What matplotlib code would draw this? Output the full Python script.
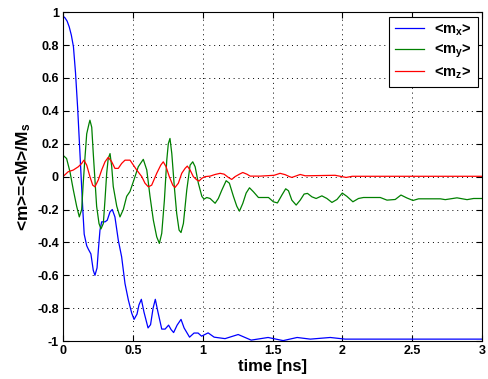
import matplotlib
matplotlib.use("Agg")
import matplotlib.pyplot as plt
from matplotlib.ticker import FormatStrFormatter

# <m_x> (blue)
mx_t = [0.0, 0.015, 0.03, 0.045, 0.06, 0.075, 0.09, 0.105, 0.117, 0.13, 0.142, 0.152,
        0.170, 0.181, 0.200, 0.217, 0.229, 0.244, 0.253, 0.265, 0.277, 0.301, 0.317,
        0.337, 0.353, 0.372, 0.396, 0.420, 0.444, 0.468, 0.492, 0.509, 0.530, 0.544,
        0.561, 0.580, 0.609, 0.627, 0.645, 0.661, 0.680, 0.707, 0.731, 0.756, 0.774,
        0.792, 0.817, 0.845, 0.867, 0.906, 0.938, 0.967, 0.992, 1.039, 1.082, 1.160,
        1.254, 1.347, 1.468, 1.576, 1.676, 1.770, 1.913, 2.020, 2.414, 3.0]
mx_v = [0.976, 0.965, 0.945, 0.91, 0.86, 0.79, 0.63, 0.42, 0.22, 0.0, -0.2, -0.35,
        -0.42, -0.44, -0.47, -0.57, -0.60, -0.555, -0.45, -0.325, -0.275, -0.275, -0.265,
        -0.214, -0.2, -0.245, -0.386, -0.488, -0.65, -0.75, -0.83, -0.868, -0.836, -0.78,
        -0.746, -0.824, -0.92, -0.90, -0.80, -0.746, -0.824, -0.927, -0.927, -0.903, -0.93,
        -0.948, -0.903, -0.868, -0.92, -0.976, -0.951, -0.951, -0.97, -0.95, -0.976, -0.985,
        -0.96, -0.994, -0.978, -0.997, -0.978, -0.988, -0.978, -0.988, -0.988, -0.988]

# <m_y> (green)
my_t = [0.0, 0.026, 0.050, 0.074, 0.098, 0.117, 0.134, 0.145, 0.158, 0.170, 0.186, 0.193,
        0.206, 0.217, 0.229, 0.241, 0.258, 0.272, 0.289, 0.301, 0.313, 0.324, 0.337, 0.349,
        0.360, 0.385, 0.408, 0.432, 0.456, 0.480, 0.504, 0.539, 0.575, 0.600, 0.623, 0.647,
        0.671, 0.690, 0.707, 0.726, 0.743, 0.754, 0.766, 0.779, 0.797, 0.814, 0.831, 0.845,
        0.862, 0.886, 0.910, 0.929, 0.946, 0.969, 0.994, 1.010, 1.029, 1.053, 1.089, 1.112,
        1.137, 1.168, 1.191, 1.220, 1.244, 1.263, 1.287, 1.311, 1.335, 1.363, 1.399, 1.471,
        1.506, 1.535, 1.567, 1.594, 1.614, 1.638, 1.669, 1.698, 1.726, 1.750, 1.782, 1.812,
        1.853, 1.889, 1.925, 1.961, 1.999, 2.032, 2.075, 2.115, 2.151, 2.271, 2.319, 2.378,
        2.419, 2.462, 2.505, 2.545, 2.701, 2.736, 2.820, 2.892, 2.939, 3.0]
my_v = [0.13, 0.11, 0.03, -0.08, -0.18, -0.245, -0.2, -0.04, 0.12, 0.26, 0.32, 0.343,
        0.30, 0.14, -0.02, -0.18, -0.285, -0.318, -0.285, -0.14, 0.02, 0.11, 0.14, 0.06,
        -0.06, -0.18, -0.245, -0.2, -0.12, -0.09, -0.03, 0.06, 0.105, 0.04, -0.12, -0.265,
        -0.366, -0.406, -0.345, -0.143, 0.10, 0.20, 0.232, 0.14, -0.062, -0.224, -0.325, -0.34,
        -0.285, -0.082, 0.07, 0.09, 0.06, -0.04, -0.12, -0.137, -0.127, -0.133, -0.162, -0.133,
        -0.082, -0.025, -0.04, -0.12, -0.18, -0.21, -0.163, -0.10, -0.068, -0.092, -0.127, -0.127,
        -0.153, -0.16, -0.112, -0.074, -0.086, -0.143, -0.173, -0.143, -0.106, -0.102, -0.123, -0.133,
        -0.117, -0.133, -0.157, -0.139, -0.10, -0.12, -0.153, -0.133, -0.127, -0.127, -0.143, -0.139,
        -0.112, -0.13, -0.145, -0.135, -0.135, -0.14, -0.129, -0.14, -0.133, -0.133]

# <m_z> (red)
mz_t = [0.0, 0.038, 0.074, 0.110, 0.134, 0.150, 0.170, 0.193, 0.213, 0.229, 0.253, 0.277,
        0.301, 0.324, 0.349, 0.372, 0.396, 0.420, 0.444, 0.480, 0.504, 0.528, 0.564, 0.587,
        0.611, 0.635, 0.671, 0.700, 0.718, 0.738, 0.761, 0.786, 0.802, 0.826, 0.850, 0.874,
        0.890, 0.910, 0.933, 0.958, 0.974, 0.994, 1.017, 1.053, 1.089, 1.125, 1.153, 1.184,
        1.208, 1.232, 1.263, 1.287, 1.316, 1.340, 1.411, 1.511, 1.554, 1.590, 1.621, 1.638,
        1.698, 1.734, 1.948, 2.027, 2.070, 2.414, 3.0]
mz_v = [0.0, 0.03, 0.04, 0.06, 0.08, 0.10, 0.07, 0.0, -0.052, -0.062, -0.02, 0.04,
        0.09, 0.117, 0.09, 0.05, 0.05, 0.08, 0.10, 0.10, 0.07, 0.04, 0.0, -0.04,
        -0.062, -0.052, 0.02, 0.07, 0.09, 0.06, 0.0, -0.052, -0.066, -0.04, 0.02, 0.05,
        0.064, 0.04, 0.0, -0.02, -0.027, -0.01, 0.0, 0.003, 0.013, 0.02, 0.015, -0.005,
        -0.017, 0.0, 0.015, 0.025, 0.015, 0.003, 0.003, 0.008, 0.02, 0.012, 0.0, -0.005,
        0.013, 0.005, 0.008, -0.005, 0.002, 0.002, 0.002]

x_ticks = [0, 0.5, 1, 1.5, 2, 2.5, 3]
y_ticks = [-1, -0.8, -0.6, -0.4, -0.2, 0, 0.2, 0.4, 0.6, 0.8, 1]

plt.rcParams["font.family"] = ["Liberation Sans", "DejaVu Sans"]
plt.rcParams["font.weight"] = "bold"
plt.rcParams["mathtext.fontset"] = "custom"
plt.rcParams["mathtext.rm"] = "Liberation Sans:bold"
plt.rcParams["mathtext.it"] = "Liberation Sans:bold"
plt.rcParams["mathtext.bf"] = "Liberation Sans:bold"
plt.rcParams["mathtext.default"] = "regular"

fig = plt.figure(figsize=(4.88, 3.79), dpi=100)
ax = fig.add_axes([0.129, 0.100, 0.859, 0.868])

ax.plot(mx_t, mx_v, color="#0000ff", lw=0.9, label="<m$_x$>")
ax.plot(my_t, my_v, color="#008000", lw=0.9, label="<m$_y$>")
ax.plot(mz_t, mz_v, color="#ff0000", lw=0.9, label="<m$_z$>")

ax.set_xlim(0, 3)
ax.set_ylim(-1, 1)
ax.set_xticks(x_ticks)
ax.set_yticks(y_ticks)
ax.xaxis.set_major_formatter(FormatStrFormatter("%g"))
ax.yaxis.set_major_formatter(FormatStrFormatter("%g"))
ax.tick_params(direction="in", top=True, right=True, length=4, width=0.8,
               labelsize=9, pad=3)
for lab in ax.get_xticklabels() + ax.get_yticklabels():
    lab.set_fontweight("bold")
ax.grid(True, color="black", linestyle=(0, (1, 4)), linewidth=0.7)
for s in ax.spines.values():
    s.set_linewidth(0.8)

ax.set_xlabel("time [ns]", fontsize=12, fontweight="bold", labelpad=1)
ax.set_ylabel("<m>=<M>/M$_s$", fontsize=12.5, fontweight="bold", labelpad=3)

leg = ax.legend(loc="upper right", fontsize=10.5, frameon=True, fancybox=False,
                framealpha=1, edgecolor="black", handlelength=2.0,
                borderaxespad=0.3, labelspacing=0.35, borderpad=0.4,
                handletextpad=0.7)
leg.get_frame().set_linewidth(0.8)

fig.savefig("out.png", dpi=100, facecolor="white")
